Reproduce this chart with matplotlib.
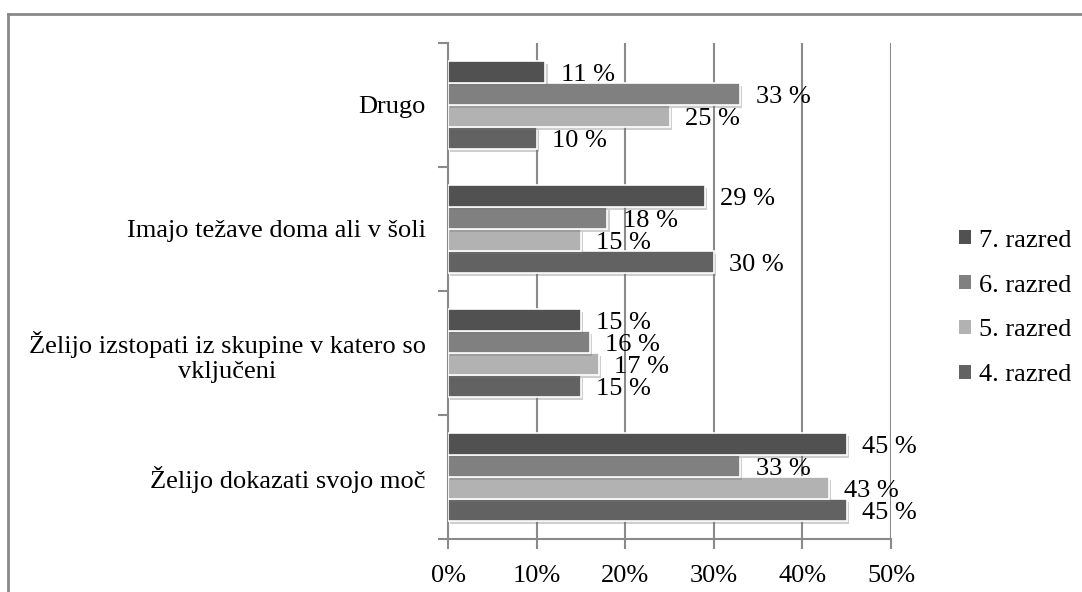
import matplotlib
matplotlib.use('Agg')
import matplotlib.pyplot as plt
import matplotlib.patheffects as pe
from matplotlib.lines import Line2D
from matplotlib.patches import Patch
import numpy as np

plt.rcParams['font.family'] = ['Liberation Serif', 'DejaVu Serif']
plt.rcParams['font.size'] = 19

# categories bottom -> top (as drawn)
categories = ['Želijo dokazati svojo moč',
              'Želijo izstopati iz skupine v katero so\nvključeni',
              'Imajo težave doma ali v šoli',
              'Drugo']
series_names = ['4. razred', '5. razred', '6. razred', '7. razred']
razred4 = [45, 15, 30, 10]
razred5 = [43, 17, 15, 25]
razred6 = [33, 16, 18, 33]
razred7 = [45, 15, 29, 11]
series_vals = [razred4, razred5, razred6, razred7]
colors = ['#626262', '#b2b2b2', '#808080', '#515151']
xticks = [0, 10, 20, 30, 40, 50]

fig = plt.figure(figsize=(10.82, 5.92), dpi=100)
ax = fig.add_axes([448/1082, 1 - 539/592, (891 - 448)/1082, (539 - 43)/592])

y = np.arange(len(categories))
h = 0.177
shadow = [pe.SimplePatchShadow(offset=(1.5, -2), shadow_rgbFace='#777777', alpha=0.35), pe.Normal()]

for j, (name, vals, c) in enumerate(zip(series_names, series_vals, colors)):
    pos = y + (j - 1.5) * h
    bars = ax.barh(pos, vals, height=h, color=c, edgecolor='white', linewidth=1.2,
                   zorder=3, label=name)
    for b in bars:
        b.set_path_effects(shadow)
    for v, p in zip(vals, pos):
        ax.annotate('%d %%' % v, (v, p), xytext=(11, -2), textcoords='offset points',
                    ha='left', va='center', fontsize=19, zorder=5)

ax.set_xlim(0, 50)
ax.set_ylim(-0.5, len(categories) - 0.5)
ax.set_xticks(xticks)
ax.set_xticklabels(['%d%%' % t for t in xticks])
ax.xaxis.grid(True, color='#8a8a8a', linewidth=1.5, zorder=0)
ax.set_axisbelow(True)

ax.set_yticks(np.arange(len(categories) + 1) - 0.5)
ax.set_yticklabels([])
ax.set_yticks(y, categories, minor=True)
ax.tick_params(axis='y', which='minor', length=0, pad=16)
ax.tick_params(axis='y', which='major', length=7, width=1.5, color='#8a8a8a')
ax.tick_params(axis='x', length=7, width=1.5, color='#8a8a8a', pad=12)
for lab in ax.get_yticklabels(minor=True):
    lab.set_multialignment('center')

for s in ['top', 'right']:
    ax.spines[s].set_visible(False)
for s in ['left', 'bottom']:
    ax.spines[s].set_color('#8a8a8a')
    ax.spines[s].set_linewidth(1.5)

handles = [Patch(facecolor=c, edgecolor='none') for c in colors][::-1]
fig.legend(handles, series_names[::-1], loc='center left',
           bbox_to_anchor=(959/1082, 1 - 308/592), frameon=False,
           handlelength=0.45, handleheight=0.45, handletextpad=0.3,
           labelspacing=0.87, borderpad=0, borderaxespad=0)

# outer chart frame (left and top visible)
fig.add_artist(Line2D([8/1082, 8/1082], [0, 1 - 14/592], color='#898989', linewidth=2))
fig.add_artist(Line2D([8/1082, 1], [1 - 14/592, 1 - 14/592], color='#898989', linewidth=2))

fig.savefig('out.png', dpi=100)
